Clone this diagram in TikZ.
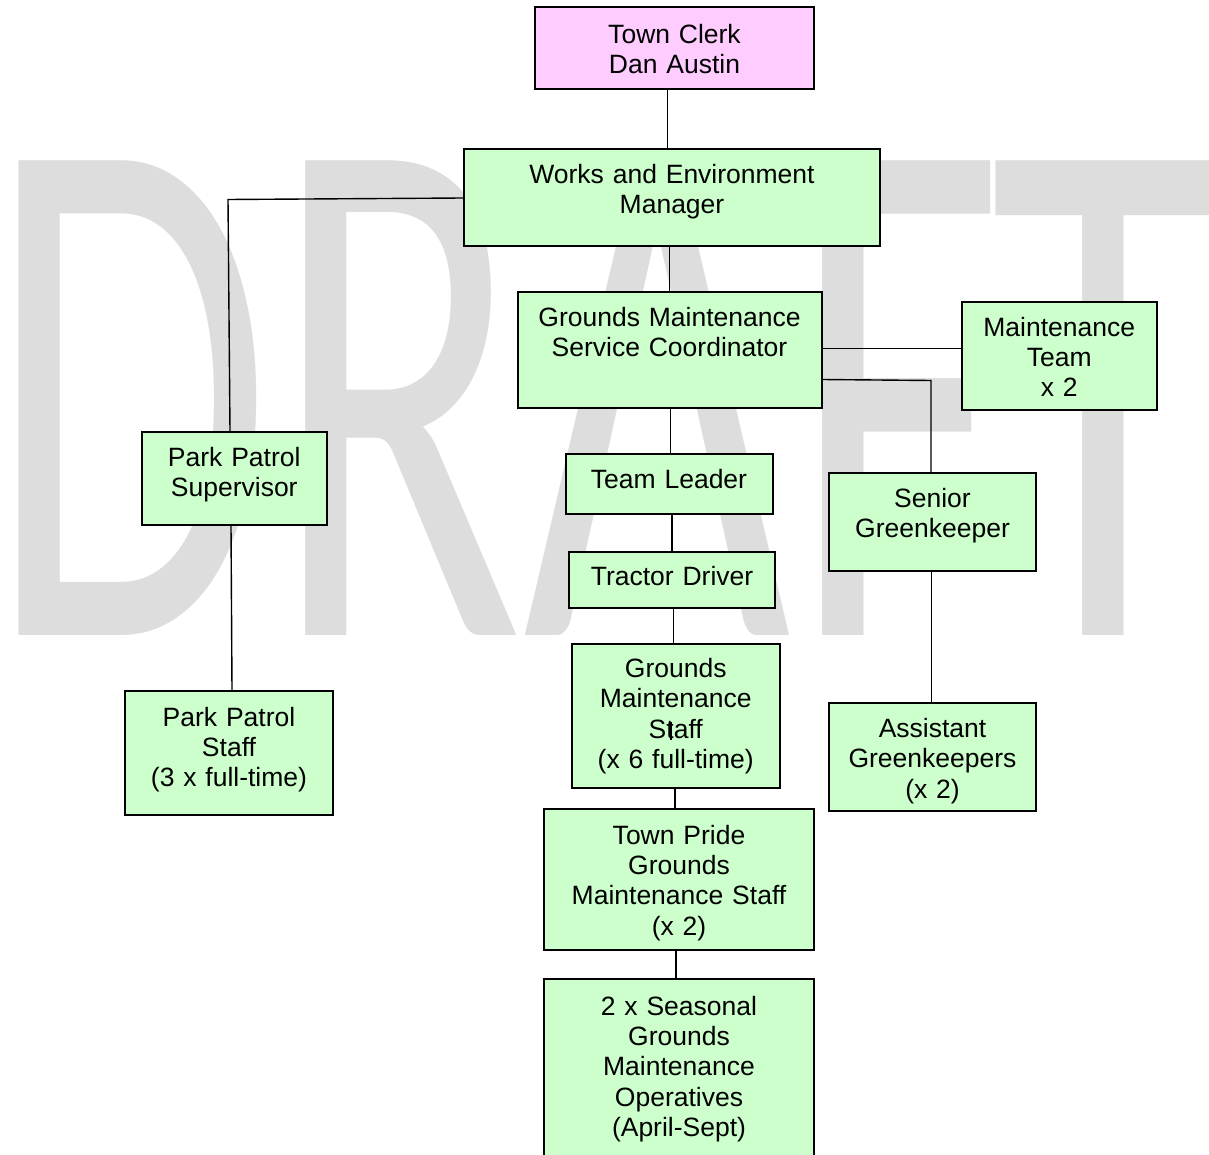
\documentclass[tikz,border=0pt]{standalone}
\usepackage{fontspec}
\setmainfont{Liberation Sans}
\newfontfamily\wmfont{Carlito}
\definecolor{boxgreen}{HTML}{CCFFCC}
\definecolor{boxpink}{HTML}{FFCCFF}
\definecolor{wmgrey}{HTML}{DDDDDD}

\begin{document}
\begin{tikzpicture}[x=0.5pt, y=-0.5pt,
    orgbox/.style={draw, fill=boxgreen, line width=1pt, inner sep=0pt,
      anchor=north, align=center, font=\fontsize{13.25}{15.2}\selectfont},
    orgline/.style={line width=0.7pt}]
  \useasboundingbox (0,0) rectangle (1209,1155);
  \fill[white] (0,0) rectangle (1209,1155);
  \clip (0,0) rectangle (1209,1155);

  % watermark
  \node[anchor=base, inner sep=0pt, xscale=0.625, text=wmgrey,
    font=\wmfont\fontsize{370}{370}\selectfont] (draft) at (601.5,635)
    {DRA\kern0pt F\kern-11pt T};

  % boxes
  \node[orgbox, fill=boxpink, text width=139.5pt, text height=18.25pt, text depth=22.75pt]
    (clerk) at (674.5,6) {Town Clerk\\Dan Austin};
  \node[orgbox, text width=208pt, text height=17pt, text depth=31.5pt]
    (works) at (672,148.5) {Works and Environment\\Manager};
  \node[orgbox, text width=152pt, text height=17.25pt, text depth=40.75pt]
    (coord) at (669.5,290.5) {Grounds Maintenance\\Service Coordinator};
  \node[orgbox, text width=97.25pt, text height=17pt, text depth=36.75pt]
    (maint) at (1059.25,301) {Maintenance\\Team\\x 2};
  \node[orgbox, text width=103.5pt, text height=17.25pt, text depth=31.75pt]
    (senior) at (932.5,472) {Senior\\Greenkeeper};
  \node[orgbox, text width=103.5pt, text height=17.25pt, text depth=36.5pt]
    (assist) at (932.5,702) {Assistant\\Greenkeepers\\(x 2)};
  \node[orgbox, text width=103.5pt, text height=17.25pt, text depth=12.75pt]
    (leader) at (669,452.5) {Team Leader};
  \node[orgbox, text width=103pt, text height=16.75pt, text depth=11.5pt]
    (tractor) at (672,550.5) {Tractor Driver};
  \node[orgbox, text width=103.75pt, text height=16.75pt, text depth=55pt]
    (gstaff) at (675.75,643) {Grounds\\Maintenance\\Staff\\(x 6 full-time)};
  \node[orgbox, text width=135pt, text height=17.5pt, text depth=53pt]
    (pride) at (679,808) {Town Pride\\Grounds\\Maintenance Staff\\(x 2)};
  \node[orgbox, text width=135pt, text height=18pt, text depth=80.5pt]
    (seasonal) at (679,978) {2 x Seasonal\\Grounds\\Maintenance\\Operatives\\(April-Sept)};
  \node[orgbox, text width=92.25pt, text height=17pt, text depth=29.25pt]
    (ppsup) at (234.25,431) {Park Patrol\\Supervisor};
  \node[orgbox, text width=104pt, text height=17.5pt, text depth=44.5pt]
    (ppstaff) at (229,690) {Park Patrol\\Staff\\(3 x full-time)};

  % connectors
  \coordinate (ppbend) at (228,199.5);
  \coordinate (sgbend) at (931,380.5);
  \draw[orgline] (clerk.south -| 667.5,0) -- (works.north -| 667.5,0);
  \draw[orgline] (works.west) -- (ppbend) -- (ppsup.north -| 230,0);
  \draw[orgline] (ppsup.south -| 231,0) -- (ppstaff.north -| 232,0);
  \draw[orgline] (works.south -| 669.5,0) -- (coord.north -| 669.5,0);
  \draw[orgline] (coord.east |- 0,348.5) -- (maint.west |- 0,348.5);
  \draw[orgline] (coord.east |- 0,379.5) -- (sgbend) -- (senior.north -| 931,0);
  \draw[orgline] (senior.south -| 931.5,0) -- (assist.north -| 931.5,0);
  \draw[orgline] (coord.south -| 670.5,0) -- (leader.north -| 670.5,0);
  \draw[orgline] (leader.south -| 672,0) -- (tractor.north -| 672,0);
  \draw[orgline] (tractor.south -| 673.5,0) -- (gstaff.north -| 673.5,0);
  \draw[orgline] (gstaff.south -| 675,0) -- (pride.north -| 675,0);
  \draw[orgline] (pride.south -| 676,0) -- (seasonal.north -| 676,0);
  \draw[orgline] (671,722) -- (671,740);
\end{tikzpicture}
\end{document}
